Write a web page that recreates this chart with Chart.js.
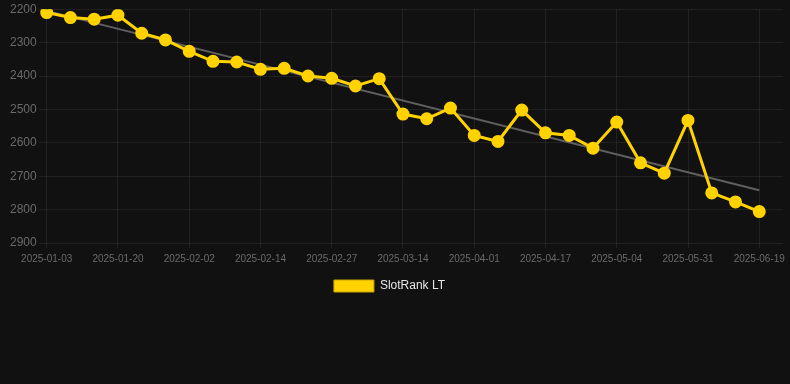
<!DOCTYPE html>
<html>
<head>
<meta charset="utf-8">
<script src="https://cdn.jsdelivr.net/npm/chart.js@4.4.1/dist/chart.umd.min.js"></script>
<style>
  html, body { margin: 0; padding: 0; background: #111111; overflow: hidden; }
  #wrap { width: 790px; height: 302px; position: relative; }
</style>
</head>
<body>
<div id="wrap"><canvas id="rank-chart"></canvas></div>
<script>
// dates on the x axis (last one is an empty slot at the right edge)
var dates = [
  '2025-01-03', '2025-01-09', '2025-01-14', '2025-01-20', '2025-01-24', '2025-01-28',
  '2025-02-02', '2025-02-06', '2025-02-10', '2025-02-14', '2025-02-19', '2025-02-23',
  '2025-02-27', '2025-03-04', '2025-03-09', '2025-03-14', '2025-03-20', '2025-03-26',
  '2025-04-01', '2025-04-06', '2025-04-12', '2025-04-17', '2025-04-23', '2025-04-28',
  '2025-05-04', '2025-05-13', '2025-05-22', '2025-05-31', '2025-06-06', '2025-06-13',
  '2025-06-19', '2025-06-25'
];

// rank in Lithuania
var rankLT = [
  2210, 2225, 2230, 2218, 2272, 2292, 2326, 2356, 2358, 2380, 2377, 2400,
  2407, 2430, 2408, 2514, 2528, 2496, 2578, 2596, 2502, 2570, 2578, 2616,
  2538, 2660, 2691, 2533, 2750, 2777, 2806, null
];

// trend line, only its two ends
var trendStart = 2205;
var trendEnd = 2742;
var trendLast = 30;

var trend = dates.map(function(d, i) {
  if (i === 0) return trendStart;
  if (i === trendLast) return trendEnd;
  return null;
});

var gridColor = 'rgba(255,255,255,0.07)';
var tickColor = '#6a6a6a';

// nudge the legend a bit to the left, like the original
var legendShift = {
  id: 'legendShift',
  afterLayout: function(chart) {
    chart.legend.left -= 7;
    chart.legend.right -= 7;
  }
};

var ctx = document.getElementById('rank-chart').getContext('2d');

var chart = new Chart(ctx, {
  type: 'line',
  plugins: [legendShift],
  data: {
    labels: dates,
    datasets: [
      {
        label: 'SlotRank LT',
        data: rankLT,
        borderColor: '#ffd200',
        backgroundColor: '#ffd200',
        borderWidth: 3,
        pointRadius: 5,
        pointBackgroundColor: '#ffd200',
        pointBorderColor: '#ffd200',
        tension: 0
      },
      {
        label: 'trend',
        data: trend,
        borderColor: '#5f5f5f',
        borderWidth: 2,
        pointRadius: 0,
        spanGaps: true,
        fill: false
      }
    ]
  },
  options: {
    responsive: true,
    maintainAspectRatio: false,
    animation: false,
    layout: {
      autoPadding: false,
      padding: { left: 8, right: 5, top: 3, bottom: 0 }
    },
    plugins: {
      tooltip: { enabled: false },
      legend: {
        position: 'bottom',
        labels: {
          boxWidth: 40,
          boxHeight: 12,
          color: '#e6e6e6',
          font: { size: 12 },
          filter: function(item) { return item.text === 'SlotRank LT'; },
          generateLabels: function(c) {
            var items = Chart.defaults.plugins.legend.labels.generateLabels(c);
            items.forEach(function(it) {
              it.fillStyle = '#ffd200';
              it.strokeStyle = '#c9a400';
              it.lineWidth = 1;
            });
            return items;
          }
        }
      }
    },
    scales: {
      x: {
        grid: { color: gridColor, tickLength: 5 },
        border: { display: false },
        ticks: {
          color: tickColor,
          font: { size: 10 },
          maxRotation: 0,
          autoSkip: true,
          autoSkipPadding: 3,
          padding: 5
        }
      },
      y: {
        reverse: true,
        min: 2200,
        max: 2900,
        grid: { color: gridColor, tickLength: 8 },
        border: { display: false },
        ticks: {
          color: tickColor,
          font: { size: 12 },
          stepSize: 100,
          padding: 2,
          callback: function(v) { return String(v); }
        }
      }
    }
  }
});
</script>
</body>
</html>
